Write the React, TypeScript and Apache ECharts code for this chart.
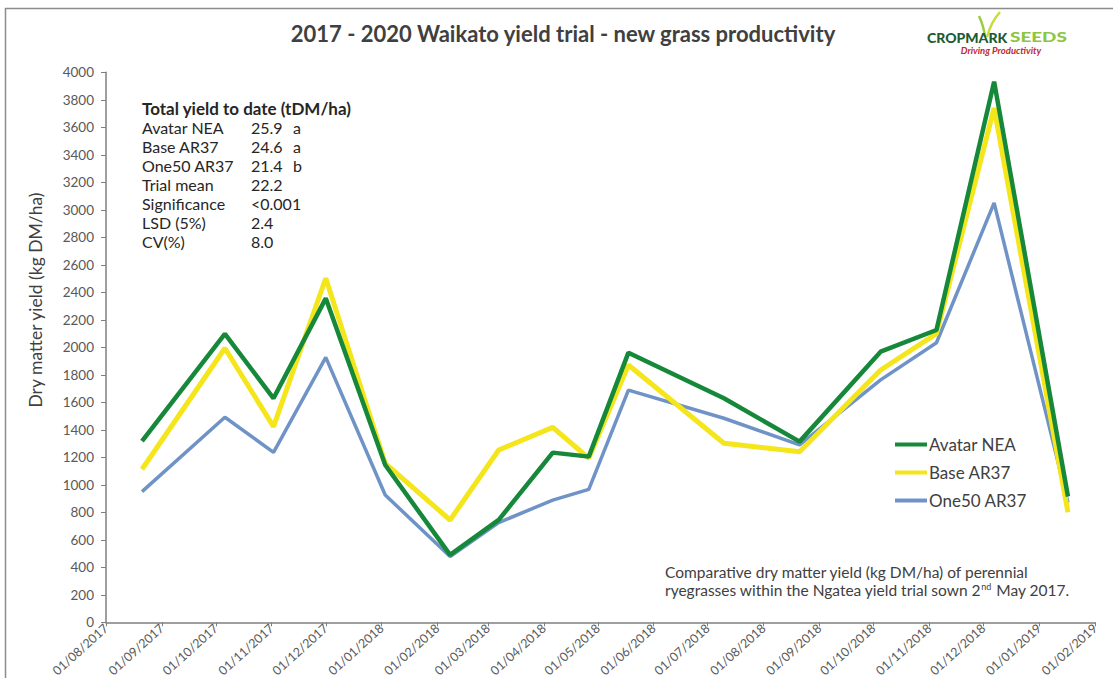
import React, { useEffect, useRef } from "react";
import * as echarts from "echarts";

// ---- data ----
const sampleDates = [
  "2017-08-21", "2017-10-06", "2017-11-02", "2017-12-01", "2018-01-03",
  "2018-02-08", "2018-03-07", "2018-04-06", "2018-04-26", "2018-05-18",
  "2018-07-10", "2018-08-21", "2018-10-05", "2018-11-05", "2018-12-07",
  "2019-01-17",
];
const avatarNEA = [1318, 2097, 1629, 2356, 1144, 490, 745, 1234, 1205, 1961, 1629, 1314, 1968, 2126, 3932, 915];
const baseAR37 = [1113, 1993, 1423, 2502, 1156, 744, 1253, 1418, 1193, 1871, 1302, 1241, 1835, 2099, 3740, 800];
const one50AR37 = [950, 1491, 1236, 1927, 926, 478, 725, 889, 967, 1689, 1484, 1290, 1763, 2033, 3050, 870];

const seriesNames = ["Avatar NEA", "Base AR37", "One50 AR37"];
const xStart = "2017-08-01";
const xEnd = "2019-02-01";
const yMin = 0;
const yMax = 4000;
const yStep = 200;

const statsTitle = "Total yield to date (tDM/ha)";
const statsLabels = ["Avatar NEA", "Base AR37", "One50 AR37", "Trial mean", "Significance", "LSD (5%)", "CV(%)"];
const statsValues = ["25.9", "24.6", "21.4", "22.2", "<0.001", "2.4", "8.0"];
const statsLetters = ["a", "a", "b", "", "", "", ""];

const chartTitle = "2017 - 2020 Waikato yield trial - new grass productivity";
const yAxisTitle = "Dry matter yield (kg DM/ha)";
const noteLine1 = "Comparative dry matter yield (kg DM/ha) of perennial";
const noteLine2 = "ryegrasses within the Ngatea yield trial sown 2{sup|nd} May 2017.";
const logoMain = "CROPMARK";
const logoSecond = "SEEDS";
const logoTagline = "Driving Productivity";

function toTs(s: string) {
  const [y, m, d] = s.split("-").map(Number);
  return new Date(y, m - 1, d).getTime();
}

const FONT = "Lato, 'Open Sans', sans-serif";

export default function App() {
  const ref = useRef<HTMLDivElement>(null);
  useEffect(() => {
    if (!ref.current) return;
    const chart = echarts.init(ref.current, undefined, { renderer: "svg" });
    const mk = (vals: number[]) => sampleDates.map((d, i) => [toTs(d), vals[i]]);
    const DAY = 86400000;

    const statsGraphics: any[] = [];
    statsGraphics.push({
      type: "text",
      x: 142,
      y: 108,
      style: { text: statsTitle, font: `bold 17px ${FONT}`, fill: "#262626", verticalAlign: "middle" },
    });
    statsLabels.forEach((lab, i) => {
      const y = 127 + i * 19;
      statsGraphics.push({
        type: "text", x: 142, y,
        style: { text: lab, font: `16px ${FONT}`, fill: "#262626", verticalAlign: "middle" },
      });
      statsGraphics.push({
        type: "text", x: 251, y,
        style: { text: statsValues[i], font: `16px ${FONT}`, fill: "#262626", verticalAlign: "middle" },
      });
      if (statsLetters[i]) {
        statsGraphics.push({
          type: "text", x: 293, y,
          style: { text: statsLetters[i], font: `16px ${FONT}`, fill: "#262626", verticalAlign: "middle" },
        });
      }
    });

    const option: any = {
      animation: false,
      backgroundColor: "#ffffff",
      grid: {
        left: 106, right: 18, top: 72.3, bottom: 55.7,
        containLabel: false, outerBoundsMode: "none",
      },
      legend: {
        data: seriesNames,
        orient: "vertical",
        left: 890,
        top: 431,
        icon: "rect",
        itemWidth: 32,
        itemHeight: 4,
        itemGap: 11,
        textStyle: { fontFamily: FONT, fontSize: 17, color: "#404040", padding: [0, 0, 0, -3] },
      },
      xAxis: {
        type: "time",
        min: toTs(xStart),
        max: toTs(xEnd),
        splitNumber: 18,
        minInterval: 28 * DAY,
        maxInterval: 31 * DAY,
        axisLine: { show: true, lineStyle: { color: "#7f7f7f", width: 1.5 } },
        axisTick: { show: true, length: 4, lineStyle: { color: "#7f7f7f" } },
        splitLine: { show: false },
        axisLabel: {
          formatter: "{dd}/{MM}/{yyyy}",
          rotate: 42,
          fontFamily: FONT,
          fontSize: 12.5,
          color: "#595959",
          margin: 4,
          interval: 0,
          showMinLabel: true,
          showMaxLabel: true,
          hideOverlap: false,
        },
      },
      yAxis: {
        type: "value",
        min: yMin,
        max: yMax,
        interval: yStep,
        axisLine: { show: true, lineStyle: { color: "#7f7f7f", width: 1.5 } },
        axisTick: { show: true, length: 5, lineStyle: { color: "#7f7f7f" } },
        splitLine: { show: false },
        axisLabel: {
          fontFamily: FONT, fontSize: 13.5, color: "#595959", margin: 12,
          formatter: (v: number) => String(v),
        },
      },
      series: [
        {
          name: seriesNames[0], type: "line", data: mk(avatarNEA), showSymbol: false, symbol: "none",
          z: 4, color: "#16883a", lineStyle: { color: "#16883a", width: 4.5 },
        },
        {
          name: seriesNames[1], type: "line", data: mk(baseAR37), showSymbol: false, symbol: "none",
          z: 3, color: "#f5e51b", lineStyle: { color: "#f5e51b", width: 5 },
        },
        {
          name: seriesNames[2], type: "line", data: mk(one50AR37), showSymbol: false, symbol: "none",
          z: 2, color: "#6f93c6", lineStyle: { color: "#6f93c6", width: 3.5 },
        },
      ],
      graphic: [
        {
          type: "rect",
          shape: { x: 5.5, y: 8.5, width: 1300, height: 900 },
          style: { fill: "none", stroke: "#8c8c8c", lineWidth: 1.5 },
          z: -10,
          silent: true,
        },
        {
          type: "text",
          x: 563,
          y: 33,
          style: { text: chartTitle, font: `bold 22px ${FONT}`, fill: "#404040", align: "center", verticalAlign: "middle" },
        },
        {
          type: "text",
          x: 35,
          y: 300,
          rotation: Math.PI / 2,
          style: { text: yAxisTitle, font: `17.5px ${FONT}`, fill: "#404040", align: "center", verticalAlign: "middle" },
        },
        ...statsGraphics,
        {
          type: "text",
          x: 665,
          y: 572,
          style: { text: noteLine1, font: `15.5px ${FONT}`, fill: "#404040", verticalAlign: "middle" },
        },
        {
          type: "text",
          x: 665,
          y: 590,
          style: {
            text: noteLine2,
            font: `15.5px ${FONT}`, fill: "#404040", verticalAlign: "middle",
            rich: { sup: { fontSize: 9, fontFamily: FONT, fill: "#404040", verticalAlign: "top", padding: [0, 1, 6, 0] } },
          },
        },
        // logo
        {
          type: "bezierCurve",
          shape: { x1: 985, y1: 37, x2: 979, y2: 16, cpx1: 984, cpy1: 27 },
          style: { stroke: "#9ccc3c", lineWidth: 2.5, fill: "none" },
          z: 1,
        },
        {
          type: "bezierCurve",
          shape: { x1: 987, y1: 37, x2: 1000, y2: 12, cpx1: 991, cpy1: 22 },
          style: { stroke: "#c8dc3a", lineWidth: 2.5, fill: "none" },
          z: 1,
        },
        {
          type: "text",
          x: 927,
          y: 37,
          z: 2,
          style: { text: logoMain, font: `900 14px ${FONT}`, fill: "#1d5a34", verticalAlign: "middle" },
        },
        {
          type: "text",
          x: 1010,
          y: 37,
          scaleX: 1.35,
          z: 2,
          style: { text: logoSecond, font: `900 14px ${FONT}`, fill: "#8cc63f", verticalAlign: "middle" },
        },
        {
          type: "text",
          x: 1001,
          y: 50,
          style: { text: logoTagline, font: `italic bold 9.5px ${FONT}`, fill: "#c1272d", align: "center", verticalAlign: "middle" },
        },
      ],
    };
    chart.setOption(option);
    return () => chart.dispose();
  }, []);
  return (
    <div
      ref={ref}
      style={{ position: "absolute", left: 0, top: 0, width: 1113, height: 678, background: "#fff" }}
    />
  );
}
